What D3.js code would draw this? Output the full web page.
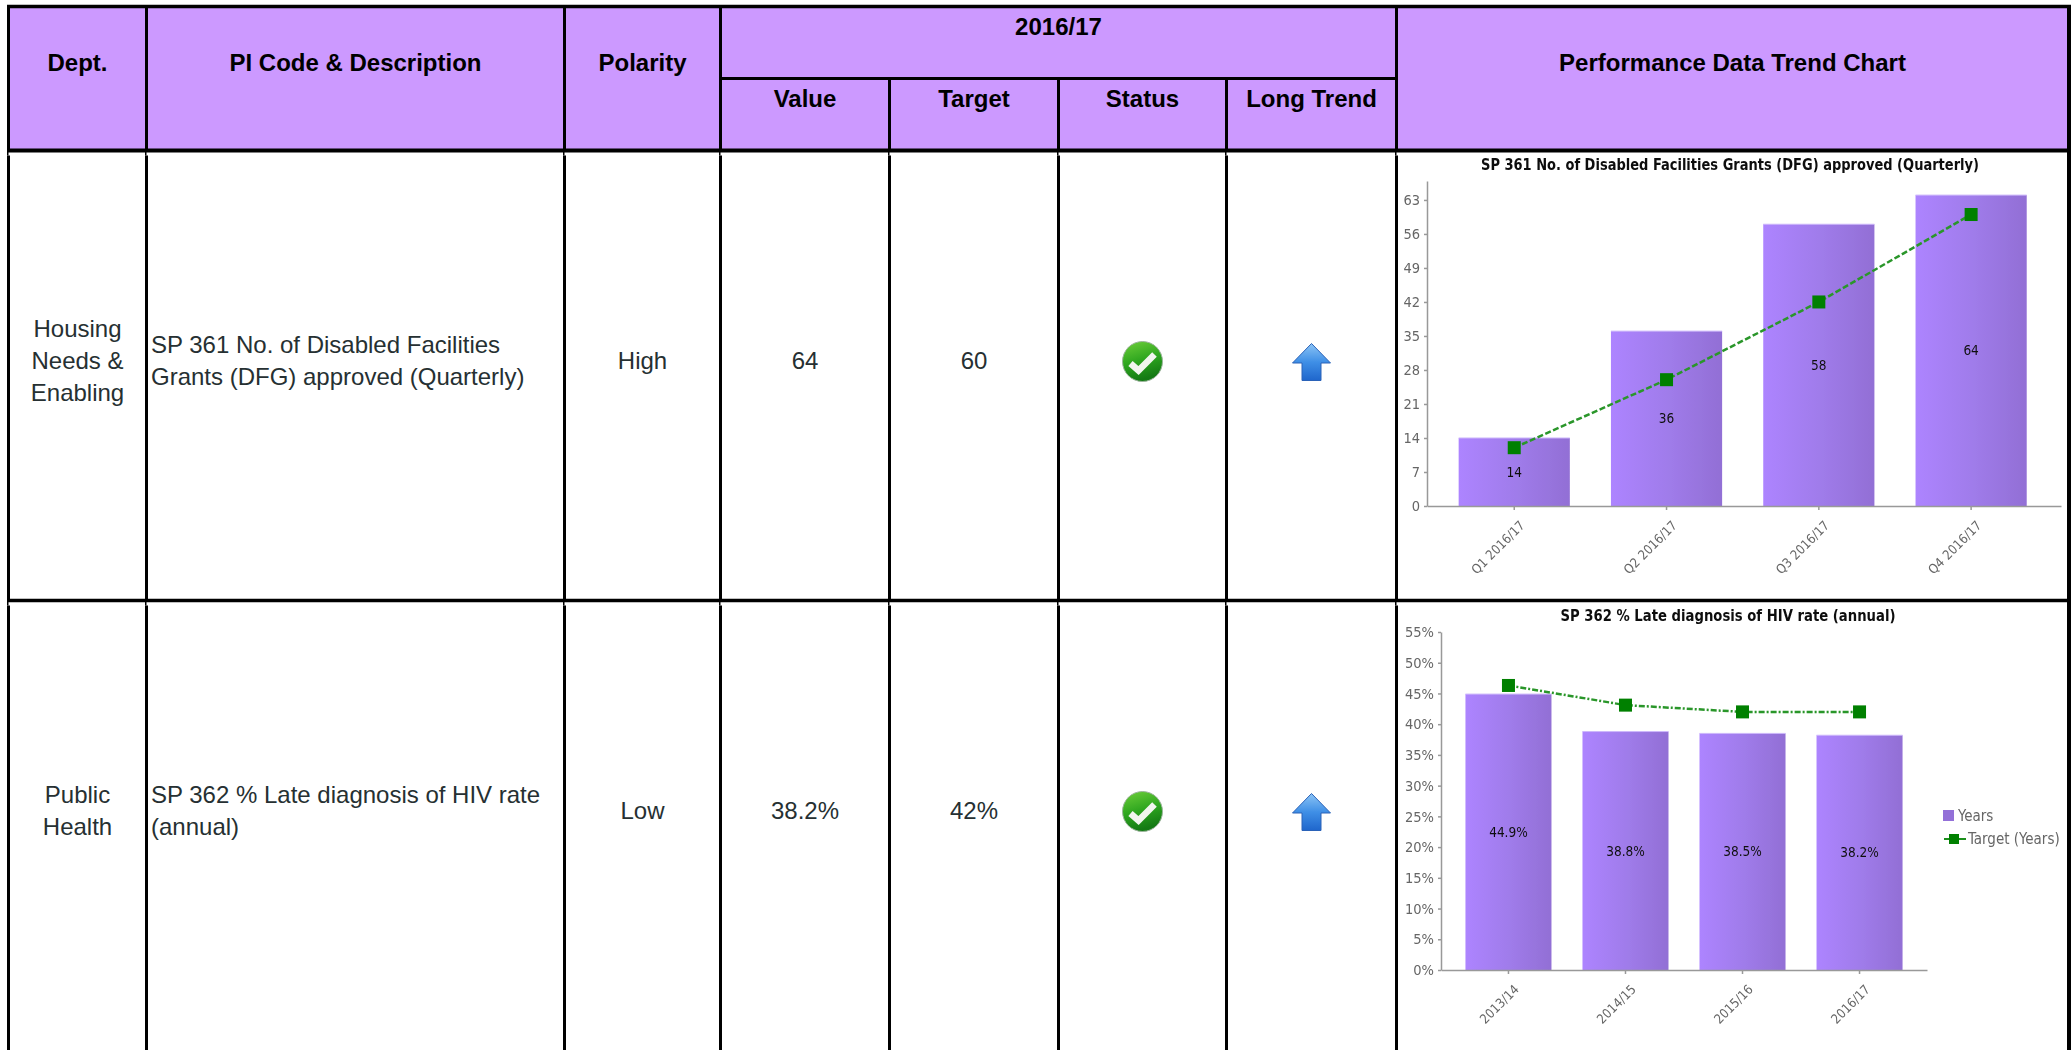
<!DOCTYPE html>
<html>
<head>
<meta charset="utf-8">
<title>Performance Data Trend</title>
<script src="https://d3js.org/d3.v7.min.js"></script>
<style>
  html, body { margin: 0; padding: 0; background: #fff; }
  svg { display: block; }
  .cell { font-family: "Liberation Sans", Arial, sans-serif; fill: #263032; font-size: 24px; }
  .head { font-family: "Liberation Sans", Arial, sans-serif; fill: #000; font-size: 24px; font-weight: bold; }
  .chart text { font-family: "DejaVu Sans Condensed", "DejaVu Sans", sans-serif; font-stretch: condensed; }
  .chart .title { font-weight: bold; fill: #111; }
  .chart .tick text { font-size: 14.5px; fill: #666; }
  .chart .xTicks .tick text { font-size: 13px; }
  .chart .legend text { font-size: 15px; fill: #666; }
  .chart .tick line, .chart .domain { stroke: #999; stroke-width: 1.5; }
  .chart .barLabel { font-size: 13.5px; fill: #111; }
</style>
</head>
<body>
<svg id="page" width="2071" height="1050"></svg>
<script>
// table text
const columnHeads = ["Dept.", "PI Code & Description", "Polarity"];
const periodHead = "2016/17";
const subHeads = ["Value", "Target", "Status", "Long Trend"];
const trendHead = "Performance Data Trend Chart";

const depts = [["Housing", "Needs &", "Enabling"], ["Public", "Health"]];
const descriptions = [
  ["SP 361 No. of Disabled Facilities", "Grants (DFG) approved (Quarterly)"],
  ["SP 362 % Late diagnosis of HIV rate", "(annual)"]
];
const polarities = ["High", "Low"];
const rowValues = ["64", "38.2%"];
const rowTargets = ["60", "42%"];

// chart 1
const dfgTitle = "SP 361 No. of Disabled Facilities Grants (DFG) approved (Quarterly)";
const dfgCategories = ["Q1 2016/17", "Q2 2016/17", "Q3 2016/17", "Q4 2016/17"];
const dfgValues = [14, 36, 58, 64];
const dfgTargets = [12, 26, 42, 60];
const dfgTicks = [0, 7, 14, 21, 28, 35, 42, 49, 56, 63];

// chart 2
const hivTitle = "SP 362 % Late diagnosis of HIV rate (annual)";
const hivCategories = ["2013/14", "2014/15", "2015/16", "2016/17"];
const hivValues = [44.9, 38.8, 38.5, 38.2];
const hivTargets = [46.3, 43.1, 42, 42];
const hivTicks = [0, 5, 10, 15, 20, 25, 30, 35, 40, 45, 50, 55];
const legendItems = ["Years", "Target (Years)"];

const svg = d3.select("#page");
const defs = svg.append("defs");

function gradient(id, stops, x2, y2) {
  const g = defs.append("linearGradient").attr("id", id)
    .attr("x1", 0).attr("y1", 0).attr("x2", x2).attr("y2", y2);
  stops.forEach(s => g.append("stop").attr("offset", s[0]).attr("stop-color", s[1]));
}
gradient("barFill", [[0, "#ad84ff"], [0.5, "#a07ceb"], [1, "#926fd5"]], 1, 0);
gradient("checkFill", [[0, "#6fcf3a"], [0.55, "#2ea61f"], [1, "#147a14"]], 0.3, 1);
gradient("arrowFill", [[0, "#8cc4f5"], [0.5, "#3f8fe6"], [1, "#1f66cc"]], 0, 1);
// the charts in the source are slightly soft screenshots
defs.append("filter").attr("id", "soft").append("feGaussianBlur").attr("stdDeviation", 0.4);

// table grid
const colX = [8.5, 146.5, 564.5, 720.5, 889.5, 1058.5, 1226.5, 1396.5, 2068.5];
const headTop = 6, subLine = 78.5, headBottom = 150.5, rowLine = 600.5, pageBottom = 1050;
const midX = (i, j) => (colX[i] + colX[j]) / 2;

svg.append("rect").attr("x", colX[0]).attr("y", headTop)
  .attr("width", colX[8] - colX[0]).attr("height", headBottom - headTop).attr("fill", "#cc99ff");

function hline(x1, x2, y, w) {
  svg.append("line").attr("x1", x1).attr("x2", x2).attr("y1", y).attr("y2", y)
    .attr("stroke", "#000").attr("stroke-width", w);
}
function vline(x, y1, y2, w) {
  svg.append("line").attr("x1", x).attr("x2", x).attr("y1", y1).attr("y2", y2)
    .attr("stroke", "#000").attr("stroke-width", w || 3);
}
colX.forEach((x, i) => {
  if (i >= 4 && i <= 6) vline(x, subLine, headBottom);
  else vline(x, headTop, headBottom);
  // the rules pinch to half width just under each horizontal line
  vline(x - 0.75, headBottom, headBottom + 5, 1.5);
  vline(x, headBottom + 5, rowLine);
  vline(x - 0.75, rowLine, rowLine + 5, 1.5);
  vline(x, rowLine + 5, pageBottom);
});
hline(colX[0] - 1.5, 2071, headTop + 0.5, 3.5);
hline(colX[3], colX[7], subLine, 3);
hline(colX[0] - 1.5, 2071, headBottom, 4);
hline(colX[0] - 1.5, 2071, rowLine, 3.5);
// right page edge
svg.append("rect").attr("x", 2067).attr("y", headTop).attr("width", 4).attr("height", pageBottom - headTop).attr("fill", "#000");

function label(text, x, y, cls, anchor) {
  svg.append("text").attr("class", cls).attr("x", x).attr("y", y).attr("dy", "0.35em")
    .attr("text-anchor", anchor || "middle").text(text);
}

// header
columnHeads.forEach((t, i) => label(t, midX(i, i + 1), 63, "head"));
label(periodHead, midX(3, 7), 27, "head");
subHeads.forEach((t, i) => label(t, midX(3 + i, 4 + i), 99, "head"));
label(trendHead, midX(7, 8), 63, "head");

function checkIcon(cx, cy) {
  const g = svg.append("g").attr("transform", `translate(${cx},${cy})`);
  g.append("circle").attr("r", 20).attr("fill", "url(#checkFill)").attr("stroke", "#9db59d").attr("stroke-width", 1);
  g.append("path").attr("d", "M-12,2 L-4,9 L12,-7").attr("fill", "none")
    .attr("stroke", "#f2f5ef").attr("stroke-width", 6.5);
}
function arrowIcon(cx, cy) {
  const g = svg.append("g").attr("transform", `translate(${cx},${cy})`);
  g.append("path").attr("d", "M0,-18 L19,1.5 L9.5,1.5 L9.5,19 L-9.5,19 L-9.5,1.5 L-19,1.5 Z")
    .attr("fill", "url(#arrowFill)").attr("stroke", "#2a62b8").attr("stroke-width", 1);
}

// rows
const rowCenters = [361, 811];
rowCenters.forEach((cy, r) => {
  const dl = depts[r];
  dl.forEach((t, i) => label(t, midX(0, 1), cy + (i - (dl.length - 1) / 2) * 32, "cell"));
  const ds = descriptions[r];
  ds.forEach((t, i) => label(t, 151, cy + (i - 0.5) * 32, "cell", "start"));
  label(polarities[r], midX(2, 3), cy, "cell");
  label(rowValues[r], midX(3, 4), cy, "cell");
  label(rowTargets[r], midX(4, 5), cy, "cell");
  checkIcon(midX(5, 6), cy + 0.5);
  arrowIcon(midX(6, 7), cy + 0.5);
});

// one bar + target chart
function drawChart(o) {
  const g = svg.append("g").attr("class", "chart").attr("filter", "url(#soft)");
  const x = d3.scaleBand().domain(o.categories).range(o.xRange)
    .paddingInner(o.inner).paddingOuter(o.outer).align(o.align);
  const y = d3.scaleLinear().domain([0, o.yMax]).range(o.yRange);

  g.append("text").attr("class", "title").attr("text-anchor", "middle")
    .attr("x", o.titleX).attr("y", o.titleY).attr("dy", "0.35em")
    .attr("textLength", o.titleWidth).attr("lengthAdjust", "spacingAndGlyphs")
    .style("font-size", "15px").text(o.title);

  g.selectAll(".bar").data(o.values).join("rect").attr("class", "bar")
    .attr("x", (d, i) => x(o.categories[i]))
    .attr("y", d => y(d))
    .attr("width", x.bandwidth())
    .attr("height", d => y(0) - y(d))
    .attr("fill", "url(#barFill)");
  // pale cap on each bar
  g.selectAll(".cap").data(o.values).join("line").attr("class", "cap")
    .attr("x1", (d, i) => x(o.categories[i]))
    .attr("x2", (d, i) => x(o.categories[i]) + x.bandwidth())
    .attr("y1", d => y(d)).attr("y2", d => y(d))
    .attr("stroke", "#cdb8fb").attr("stroke-width", 1);

  g.selectAll(".barLabel").data(o.values).join("text").attr("class", "barLabel")
    .attr("text-anchor", "middle").attr("dy", "0.35em")
    .attr("x", (d, i) => x(o.categories[i]) + x.bandwidth() / 2)
    .attr("y", d => y(d / 2))
    .text(d => d + o.suffix);

  const xAxis = g.append("g").attr("class", "xTicks").attr("transform", `translate(0,${o.yRange[0]})`)
    .call(d3.axisBottom(x).tickSize(4).tickSizeOuter(0));
  xAxis.selectAll("text")
    .attr("text-anchor", "end").attr("x", 0).attr("y", 0).attr("dy", "0.35em")
    .attr("transform", "translate(8,17) rotate(-45)");

  g.append("g").attr("transform", `translate(${o.xRange[0]},0)`)
    .call(d3.axisLeft(y).tickValues(o.ticks).tickSize(3).tickSizeOuter(0).tickPadding(4)
      .tickFormat(d => d + (o.suffix || "")));

  const cx = i => x(o.categories[i]) + x.bandwidth() / 2;
  const line = d3.line().x((d, i) => cx(i)).y(d => y(d));
  g.append("path").datum(o.targets).attr("d", line).attr("fill", "none")
    .attr("stroke", "#2a962a").attr("stroke-width", 2.5).attr("stroke-dasharray", o.dash);
  g.selectAll(".marker").data(o.targets).join("rect").attr("class", "marker")
    .attr("x", (d, i) => cx(i) - 6.5).attr("y", d => y(d) - 6.5)
    .attr("width", 13).attr("height", 13).attr("fill", "#008000");
  return g;
}

drawChart({
  title: dfgTitle, titleX: 1730, titleY: 165, titleWidth: 498,
  categories: dfgCategories, values: dfgValues, targets: dfgTargets, ticks: dfgTicks,
  xRange: [1427, 2061], inner: 0.27, outer: 0.2165, align: 0.48, yRange: [506, 181], yMax: 66.9,
  suffix: "", dash: "6,2.5"
});

const hivChart = drawChart({
  title: hivTitle, titleX: 1728, titleY: 616, titleWidth: 335,
  categories: hivCategories, values: hivValues, targets: hivTargets, ticks: hivTicks,
  xRange: [1441, 1927], inner: 0.265, outer: 0.209, align: 0.5, yRange: [970, 632], yMax: 55,
  suffix: "%", dash: "6,2,2,2"
});

// legend of chart 2
const legend = hivChart.append("g").attr("class", "legend");
legend.append("rect").attr("x", 1943).attr("y", 810).attr("width", 11).attr("height", 11).attr("fill", "#9370d8");
legend.append("line").attr("x1", 1944).attr("x2", 1966).attr("y1", 839).attr("y2", 839)
  .attr("stroke", "#1f8f1f").attr("stroke-width", 2);
legend.append("rect").attr("x", 1949).attr("y", 834).attr("width", 10).attr("height", 10).attr("fill", "#008000");
legend.selectAll("text").data(legendItems).join("text")
  .attr("x", (d, i) => i ? 1968 : 1958).attr("y", (d, i) => i ? 839 : 816).attr("dy", "0.35em")
  .text(d => d);
</script>
</body>
</html>
